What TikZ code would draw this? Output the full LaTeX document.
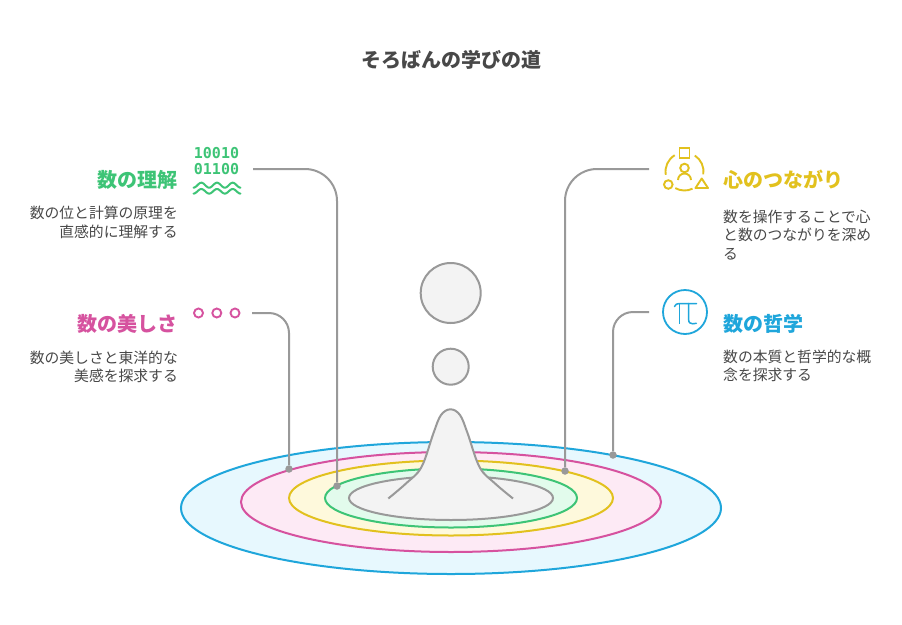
\documentclass[tikz,border=0pt]{standalone}
\usepackage{fontspec}
\newfontfamily\jp{Noto Sans CJK JP}
\newfontfamily\monofnt{DejaVu Sans Mono}
\definecolor{cgreen}{HTML}{3DC476}
\definecolor{cpink}{HTML}{D6529F}
\definecolor{cyellow}{HTML}{E2C11E}
\definecolor{cblue}{HTML}{1FA6DB}
\definecolor{cgray}{HTML}{999999}
\definecolor{ctext}{HTML}{484848}
\definecolor{fblue}{HTML}{E7F8FE}
\definecolor{fpink}{HTML}{FDEAF5}
\definecolor{fyellow}{HTML}{FEF9DC}
\definecolor{fgreen}{HTML}{E2FBEC}
\definecolor{fgray}{HTML}{F3F3F3}
\begin{document}
\begin{tikzpicture}[x=1pt,y=-1pt,
  conn/.style={draw=cgray, line width=2pt},
  dotn/.style={circle, fill=cgray, inner sep=0pt, minimum size=7.5pt},
  ring/.style={line width=2pt},
  head/.style={font=\jp\bfseries\fontsize{20}{24}\selectfont, inner sep=0pt},
  desc/.style={font=\jp\fontsize{14.8}{18.5}\selectfont, text=ctext, inner sep=0pt},
  icon/.style={line width=1.9pt},
  ball/.style={circle, draw=cgray, fill=fgray, line width=2pt, inner sep=0pt},
]
\useasboundingbox (0,0) rectangle (902,624);
\fill[white] (0,0) rectangle (902,624);

\node[font=\jp\bfseries\fontsize{20}{24}\selectfont, text=ctext, inner sep=0pt] (title) at (451,60) {そろばんの学びの道};

% rings
\draw[ring, draw=cblue, fill=fblue] (451,508) ellipse [x radius=270, y radius=66];
\draw[ring, draw=cpink, fill=fpink] (451,502) ellipse [x radius=210, y radius=50];
\draw[ring, draw=cyellow, fill=fyellow] (451,498) ellipse [x radius=162, y radius=37.5];
\draw[ring, draw=cgreen, fill=fgreen] (451,498) ellipse [x radius=126, y radius=29.5];
\draw[ring, draw=cgray, fill=fgray] (451,498) ellipse [x radius=102, y radius=22];

% peak
\fill[fgray] plot[smooth, tension=0.6] coordinates {(388.3,498.5) (406.5,483) (421.5,467) (433.5,433) (441,415) (450.5,409.3) (460,415) (467.5,433) (479.5,467) (494.5,483) (513,498.5)} -- cycle;
\draw[cgray, line width=2pt] plot[smooth, tension=0.6] coordinates {(388.3,498.5) (406.5,483) (421.5,467) (433.5,433) (441,415) (450.5,409.3) (460,415) (467.5,433) (479.5,467) (494.5,483) (513,498.5)};

% balls
\node[ball, minimum size=60pt] (bigball) at (450.7,293) {};
\node[ball, minimum size=36pt] (smallball) at (450.7,366.7) {};

% connectors
\coordinate (s1) at (253,169);
\coordinate (s2) at (252,313);
\coordinate (s3) at (649,169);
\coordinate (s4) at (649,312);
\node[dotn] (d1) at (337,486) {};
\node[dotn] (d2) at (289,469) {};
\node[dotn] (d3) at (565,471) {};
\node[dotn] (d4) at (613,455) {};
\draw[conn, rounded corners=32pt] (s1) -| (d1);
\draw[conn, rounded corners=20pt] (s2) -| (d2);
\draw[conn, rounded corners=32pt] (s3) -| (d3);
\draw[conn, rounded corners=20pt] (s4) -| (d4);

% --- left top: 数の理解
\node[font=\monofnt\bfseries\fontsize{15}{15.7}\selectfont, text=cgreen, align=center, inner sep=0pt] (bin) at (216.5,160.9) {10010\\01100};
\draw[cgreen, line width=2pt, line cap=round] plot[domain=0:47, samples=60, smooth] ({193.5+\x}, {185.2+2.5*cos(22.97*\x)});
\draw[cgreen, line width=2pt, line cap=round] plot[domain=0:47, samples=60, smooth] ({193.5+\x}, {191.3+2.3*cos(22.97*\x)});
\node[head, text=cgreen, anchor=east] (h1) at (178,180) {数の理解};
\node[desc, anchor=east, align=right] (t1) at (178,222.3) {数の位と計算の原理を\\直感的に理解する};

% --- left bottom: 数の美しさ
\node[circle, draw=cpink, icon, minimum size=9pt, inner sep=0pt] (p1) at (198.5,313) {};
\node[circle, draw=cpink, icon, minimum size=9pt, inner sep=0pt] (p2) at (216.8,313) {};
\node[circle, draw=cpink, icon, minimum size=9pt, inner sep=0pt] (p3) at (235,313) {};
\node[head, text=cpink, anchor=east] (h2) at (177.5,323.5) {数の美しさ};
\node[desc, anchor=east, align=right] (t2) at (178,367) {数の美しさと東洋的な\\美感を探求する};

% --- right top: 心のつながり
\coordinate (yc) at (684.5,171.5);
\draw[cyellow, icon] (yc) ++(-121:19) arc[start angle=-121, end angle=-190, radius=19];
\draw[cyellow, icon] (yc) ++(-241:19) arc[start angle=-241, end angle=-295, radius=19];
\draw[cyellow, icon] (yc) ++(9:19) arc[start angle=9, end angle=-57, radius=19];
\draw[cyellow, icon] (679.5,148) rectangle (689.5,158);
\draw[cyellow, icon] (684.5,168) circle[radius=4.3];
\draw[cyellow, icon] (678,180) arc[start angle=180, end angle=360, radius=6.5];
\draw[cyellow, icon] (668.3,184.5) circle[radius=4.3];
\draw[cyellow, icon, line join=round] (695.5,188) -- (708,188) -- (701.7,178.5) -- cycle;
\node[head, text=cyellow, anchor=west] (h3) at (723,180) {心のつながり};
\node[desc, anchor=west, align=left] (t3) at (723,235) {数を操作することで心\\と数のつながりを深め\\る};

% --- right bottom: 数の哲学
\node[circle, draw=cblue, line width=1.8pt, minimum size=44pt, inner sep=0pt] (pi) at (685,312) {};
\draw[cblue, line width=1.5pt, line cap=round] (674.5,306.5) .. controls (675.5,304.3) and (676.8,303.6) .. (679,303.6) -- (696.5,303.6);
\draw[cblue, line width=1.5pt] (679.6,303.6) -- (679.6,324);
\draw[cblue, line width=1.5pt, line cap=round] (688.6,303.6) -- (688.6,319.5) .. controls (688.6,322.8) and (690.5,323.8) .. (692.8,323.8) -- (696.3,323.3);
\node[head, text=cblue, anchor=west] (h4) at (723,324) {数の哲学};
\node[desc, anchor=west, align=left] (t4) at (723,366) {数の本質と哲学的な概\\念を探求する};
\end{tikzpicture}
\end{document}
